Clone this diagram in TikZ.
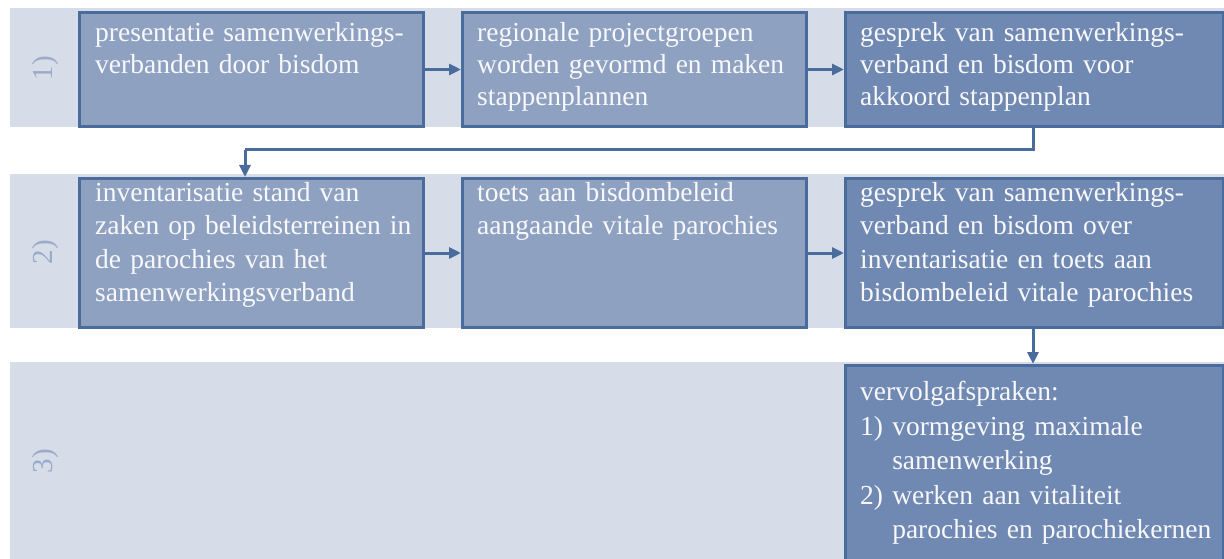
\documentclass[tikz,border=0pt]{standalone}
\usepackage{fontspec}
\setmainfont{Liberation Serif}
\usetikzlibrary{arrows.meta}
\definecolor{bandcol}{HTML}{D6DDE8}
\definecolor{lightbox}{HTML}{8FA1C1}
\definecolor{darkbox}{HTML}{7089B3}
\definecolor{bordercol}{HTML}{4A6C9C}
\definecolor{labelcol}{HTML}{9AAAC9}
\definecolor{txtcol}{HTML}{F8F8FA}
\tikzset{
  band/.style={fill=bandcol, draw=none},
  boxl/.style={draw=bordercol, line width=3pt, fill=lightbox},
  boxd/.style={draw=bordercol, line width=3pt, fill=darkbox},
  txt/.style 2 args={anchor=north west, inner sep=0pt, text width=#1, align=left, text=txtcol,
     font=\fontsize{27.5}{#2}\selectfont},
  rowlab/.style={rotate=90, text=labelcol, font=\fontsize{29}{30}\selectfont, inner sep=0pt},
  arr/.style={draw=bordercol, line width=3pt, -{Triangle[length=12pt,width=11pt]}},
  conn/.style={draw=bordercol, line width=3pt}
}
\begin{document}
\begin{tikzpicture}[x=1pt,y=-1pt]
\useasboundingbox (0,0) rectangle (1224,559);
% bands
\fill[band] (10,8) rectangle (1224,127);
\fill[band] (10,174) rectangle (1224,328);
\fill[band] (10,362) rectangle (1224,559);
% row labels
\node[rowlab] (l1) at (46,68) {1)};
\node[rowlab] (l2) at (46,252) {2)};
\node[rowlab] (l3) at (46,461) {3)};
% boxes row 1
\node[boxl, minimum width=344pt, minimum height=114pt, anchor=north west, inner sep=0pt] (b1) at (78,11) {};
\node[boxl, minimum width=344pt, minimum height=114pt, anchor=north west, inner sep=0pt] (b2) at (461,11) {};
\node[boxd, minimum width=378pt, minimum height=114pt, anchor=north west, inner sep=0pt] (b3) at (844,11) {};
% row 2
\node[boxl, minimum width=344pt, minimum height=149pt, anchor=north west, inner sep=0pt] (b4) at (78,177) {};
\node[boxl, minimum width=344pt, minimum height=149pt, anchor=north west, inner sep=0pt] (b5) at (461,177) {};
\node[boxd, minimum width=378pt, minimum height=149pt, anchor=north west, inner sep=0pt] (b6) at (844,177) {};
% row 3
\node[boxd, minimum width=378pt, minimum height=200pt, anchor=north west, inner sep=0pt] (b7) at (844,364) {};
% texts
\node[txt={335pt}{32pt}] (t1) at (95,22) {presentatie samenwerkings-\\verbanden door bisdom};
\node[txt={335pt}{32pt}] (t2) at (477,22) {regionale projectgroepen\\worden gevormd en maken\\stappenplannen};
\node[txt={362pt}{32pt}] (t3) at (860,22) {gesprek van samenwerkings-\\verband en bisdom voor\\akkoord stappenplan};
\node[txt={335pt}{33.4pt}] (t4) at (95,182) {inventarisatie stand van\\zaken op beleidsterreinen in\\de parochies van het\\samenwerkingsverband};
\node[txt={335pt}{33.4pt}] (t5) at (477,182) {toets aan bisdombeleid\\aangaande vitale parochies};
\node[txt={362pt}{33.4pt}] (t6) at (860,182) {gesprek van samenwerkings-\\verband en bisdom over\\inventarisatie en toets aan\\bisdombeleid vitale parochies};
\node[txt={362pt}{34.5pt}] (t7) at (860,381) {vervolgafspraken:\\1) vormgeving maximale\\\hphantom{1) }samenwerking\\2) werken aan vitaliteit\\\hphantom{2) }parochies en parochiekernen};
% connectors
\draw[arr] (b1.east) -- (b2.west);
\draw[arr] (b2.east) -- (b3.west);
\draw[arr] (b4.east) -- (b5.west);
\draw[arr] (b5.east) -- (b6.west);
\coordinate (k1) at (1033,150);
\coordinate (k2) at (245,150);
\draw[conn] (b3.south -| k1) -- (k1) -- (k2);
\draw[arr] (k2) -- (b4.north -| k2);
\draw[arr] (b6.south -| k1) -- (b7.north -| k1);
\end{tikzpicture}
\end{document}
